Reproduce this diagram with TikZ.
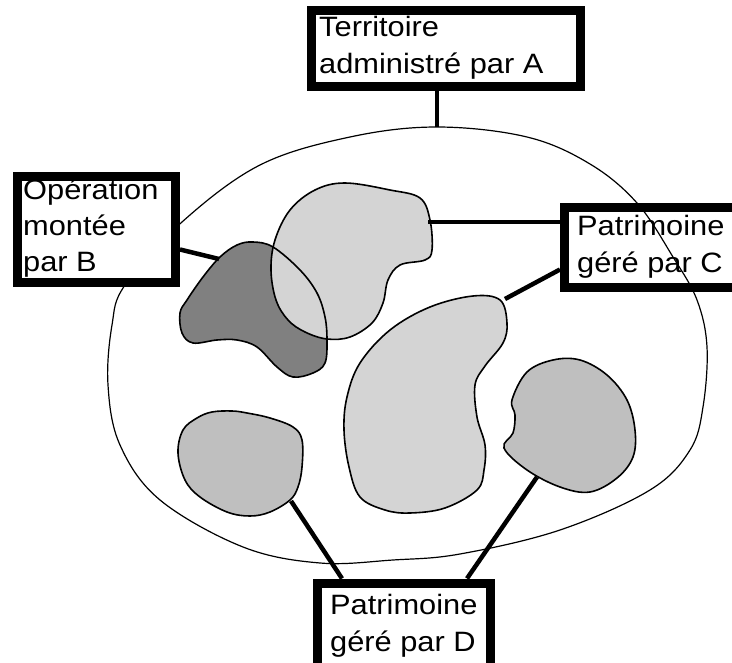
\documentclass[tikz,border=0pt]{standalone}
\usepackage{fontspec}
\setmainfont{Liberation Sans}[FakeStretch=1.1]
\begin{document}
\begin{tikzpicture}[x=1pt, y=-1pt,
	frame/.style = {draw, line width=9pt, fill=white, inner sep=0pt},
	txt/.style = {align=left, inner sep=0pt, anchor=base west, font=\fontsize{28}{37}\selectfont},
	link/.style = {line width=4.5pt},
	zone/.style = {draw, line width=1.6pt},
	hatched/.style = {zone, fill=black!17},
	light/.style = {zone, fill=black!25},
	dark/.style = {zone, fill=black!50}]
	\useasboundingbox (0,0) rectangle (732,663);
	\node[frame, minimum width=195pt, minimum height=80pt] (C) at (662,247.5) {};
	\node[txt] (tC) at (577,273) {Patrimoine\\géré par C};
	\draw[line width=1.2pt] plot[smooth cycle, tension=0.6] coordinates {(437,127) (527,137) (590,164) (637,203) (673,257) (697,300) (707,347) (703,407) (690,450) (650,490) (560,530) (460,554) (393,560) (320,563) (243,547) (160,500) (120,445) (108,385) (112,325) (125,285) (182,222) (260,165) (350,137)};
	\fill[black!50] plot[smooth cycle, tension=0.6] coordinates {(253,242) (273,247) (300,270) (317,293) (325,317) (327,340) (325,363) (313,373) (293,377) (277,367) (257,347) (237,340) (217,340) (193,343) (182,333) (180,313) (187,300) (203,277) (220,257) (237,245)};
	\draw[hatched] plot[smooth cycle, tension=0.6] coordinates {(345,183) (390,190) (420,198) (430,220) (432,250) (425,260) (400,265) (388,280) (383,303) (372,323) (350,337) (327,339) (305,332) (288,320) (276,300) (271,270) (275,240) (290,210) (315,190)};
	\draw[zone] plot[smooth cycle, tension=0.6] coordinates {(253,242) (273,247) (300,270) (317,293) (325,317) (327,340) (325,363) (313,373) (293,377) (277,367) (257,347) (237,340) (217,340) (193,343) (182,333) (180,313) (187,300) (203,277) (220,257) (237,245)};
	\draw[hatched] plot[smooth cycle, tension=0.6] coordinates {(473,296) (500,300) (507,323) (503,343) (485,366) (475,385) (477,417) (485,445) (484,470) (477,490) (445,508) (410,513) (385,510) (360,497) (349,467) (344,430) (347,397) (360,363) (390,330) (430,307)};
	\draw[light] plot[smooth cycle, tension=0.6] coordinates {(212,412) (232,411) (247,413) (270,418) (293,427) (302,440) (302,467) (298,487) (290,500) (270,512) (250,516) (227,512) (200,497) (185,480) (178,453) (183,430) (197,418)};
	\draw[light] plot[smooth cycle, tension=0.6] coordinates {(512,400) (527,372) (553,360) (580,360) (607,375) (627,400) (635,430) (633,457) (617,478) (590,492) (560,487) (527,470) (504,448) (513,433) (515,415)};
	\node[frame, minimum width=269pt, minimum height=76pt] (A) at (446,48.5) {};
	\node[txt] (tA) at (319,74) {Territoire\\administré par A};
	\node[frame, minimum width=158pt, minimum height=106pt] (B) at (96.5,229.5) {};
	\node[txt, font=\fontsize{28}{36}\selectfont] (tB) at (23,272) {Opération\\montée\\par B};
	\node[frame, minimum width=173pt, minimum height=117pt] (D) at (404,641.5) {};
	\node[txt] (tD) at (330,651) {Patrimoine\\géré par D};
	\coordinate (a1) at (437,127);
	\coordinate (b1) at (219,259);
	\coordinate (c1) at (428,222);
	\coordinate (c2) at (505,299);
	\coordinate (d1) at (291,501);
	\coordinate (d2) at (537,477);
	\draw[link] (a1) -- (a1 |- A.south);
	\draw[link] ([yshift=-20pt]B.east) -- (b1);
	\draw[link] (c1) -- (c1 -| C.west);
	\draw[link] (c2) -- ([yshift=-22pt]C.west);
	\draw[link] (d1) -- ([xshift=-62pt]D.north);
	\draw[link] (d2) -- ([xshift=63pt]D.north);
\end{tikzpicture}
\end{document}
